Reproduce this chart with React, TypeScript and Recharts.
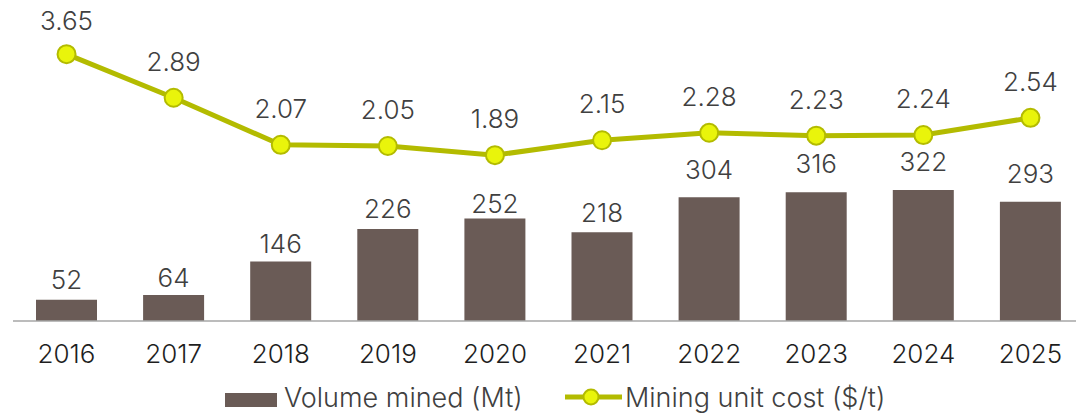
import React from 'react';
import { ComposedChart, Bar, Line, XAxis, YAxis, LabelList } from 'recharts';

const years = ['2016', '2017', '2018', '2019', '2020', '2021', '2022', '2023', '2024', '2025'];
const volumeMined = [52, 64, 146, 226, 252, 218, 304, 316, 322, 293];
const unitCost = [3.65, 2.89, 2.07, 2.05, 1.89, 2.15, 2.28, 2.23, 2.24, 2.54];
const volumeLabel = 'Volume mined (Mt)';
const costLabel = 'Mining unit cost ($/t)';

const volumeDomain = [0, 764];
const costDomain = [-1.0, 4.42];

// label gaps (px) above each mark, as placed in the original
const barLabelGap = [11, 8, 9, 11, 5, 10, 18, 19, 19, 19];
const lineLabelGap = [24, 27, 27, 27, 27, 27, 27, 27, 27, 27];

const BAR_COLOR = '#6a5b56';
const LINE_COLOR = '#b3bb00';
const DOT_FILL = '#e9f40b';
const TEXT_COLOR = '#404040';
const TICK_COLOR = '#1e1e1e';
const FONT = 'Inter, sans-serif';
const FS = 26;
const FW = 300;

const data = years.map((year, i) => ({ year, volume: volumeMined[i], cost: unitCost[i] }));

const makeLabel = (gaps: number[], fmt: (v: any) => string) => (props: any) => {
  const vb = props.viewBox || {};
  const x = (vb.x ?? props.x ?? 0) + (vb.width ?? props.width ?? 0) / 2;
  const y = vb.y ?? props.y ?? 0;
  const idx = props.index ?? 0;
  return (
    <text
      x={x}
      y={y - gaps[idx]}
      textAnchor="middle"
      fill={TEXT_COLOR}
      fontSize={FS}
      fontFamily={FONT}
      fontWeight={FW}
    >
      {fmt(props.value)}
    </text>
  );
};

export default function App() {
  return (
    <div style={{ position: 'absolute', left: 0, top: 0, width: 1076, height: 414, overflow: 'hidden', background: '#fff', fontFamily: FONT }}>
      <ComposedChart
        width={1084}
        height={414}
        data={data}
        margin={{ top: 10, right: 0, left: 13, bottom: 33 }}
      >
        <XAxis
          dataKey="year"
          height={60}
          tickLine={false}
          tickSize={0}
          tickMargin={24}
          axisLine={{ stroke: '#a6a6a6', strokeWidth: 1.5 }}
          tick={{ fill: TICK_COLOR, fontSize: FS, fontFamily: FONT, fontWeight: FW }}
          interval={0}
        />
        <YAxis yAxisId="vol" hide domain={volumeDomain} />
        <YAxis yAxisId="cost" hide domain={costDomain} orientation="right" />
        <Bar yAxisId="vol" dataKey="volume" fill={BAR_COLOR} barSize={61} isAnimationActive={false}>
          <LabelList dataKey="volume" content={makeLabel(barLabelGap, (v) => String(v))} />
        </Bar>
        <Line
          yAxisId="cost"
          dataKey="cost"
          stroke={LINE_COLOR}
          strokeWidth={5}
          dot={{ r: 9, fill: DOT_FILL, stroke: LINE_COLOR, strokeWidth: 2 }}
          activeDot={false}
          isAnimationActive={false}
        >
          <LabelList dataKey="cost" content={makeLabel(lineLabelGap, (v) => Number(v).toFixed(2))} />
        </Line>
      </ComposedChart>
      <svg width={1076} height={34} style={{ position: 'absolute', left: 0, top: 380 }}>
        <rect x={225} y={13} width={52} height={14} fill={BAR_COLOR} />
        <text x={284} y={27} fill={TEXT_COLOR} fontSize={27} fontFamily={FONT} fontWeight={FW}>{volumeLabel}</text>
        <line x1={565} y1={17} x2={622} y2={17} stroke={LINE_COLOR} strokeWidth={5} />
        <circle cx={591} cy={17} r={7.5} fill={DOT_FILL} stroke={LINE_COLOR} strokeWidth={2} />
        <text x={625} y={27} fill={TEXT_COLOR} fontSize={27} fontFamily={FONT} fontWeight={FW}>{costLabel}</text>
      </svg>
    </div>
  );
}
